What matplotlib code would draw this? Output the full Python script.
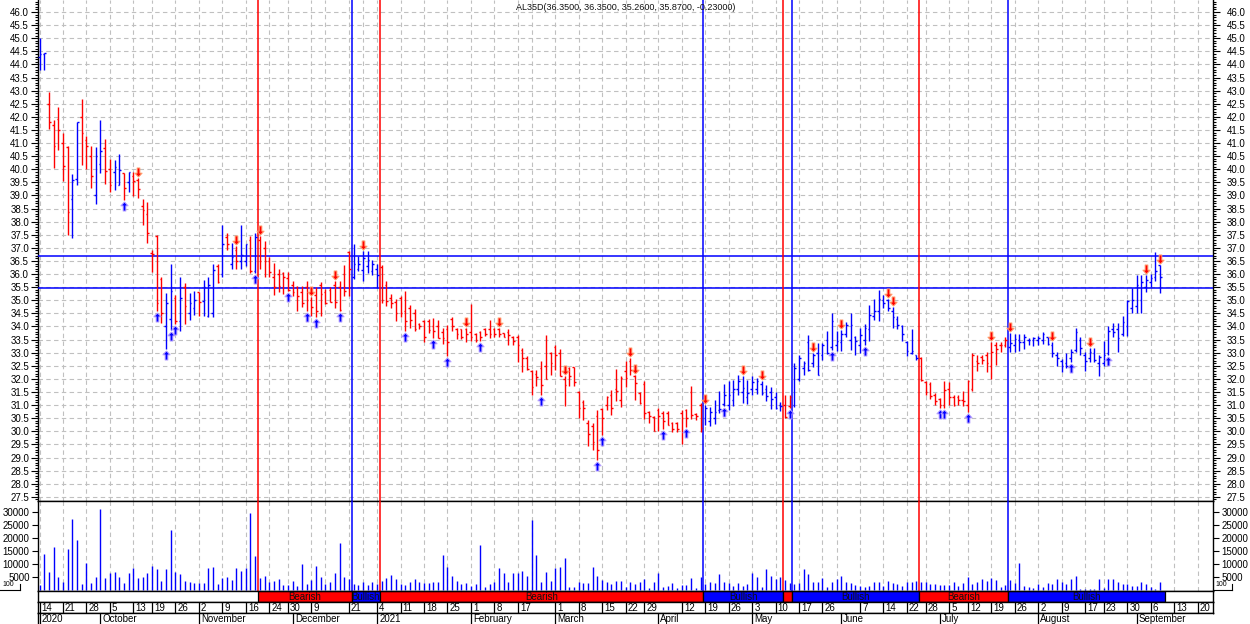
import matplotlib
matplotlib.use("Agg")
import matplotlib.pyplot as plt
from matplotlib.path import Path
from matplotlib.lines import Line2D
from matplotlib.patches import Rectangle
import numpy as np
import pandas as pd

plt.rcParams["font.family"] = ["Liberation Sans", "DejaVu Sans"]

# ---- calendar (Argentine market days) ----
holidays = ["2020-10-12", "2020-11-23", "2020-12-07", "2020-12-08", "2020-12-24",
            "2020-12-25", "2020-12-31", "2021-01-01", "2021-02-15", "2021-02-16",
            "2021-03-24", "2021-04-01", "2021-04-02", "2021-05-24", "2021-05-25",
            "2021-06-21", "2021-07-09", "2021-08-16"]
hidden_weeks = ["2020-12-14", "2020-12-28", "2021-02-22", "2021-04-05", "2021-05-31"]

# ---- OHLC + volume ----
highs = [45.0, 44.45, 42.96, 41.88, 42.37, 41.4, 40.89, 39.82, 41.81, 42.68,
         41.27, 40.89, 40.85, 41.88, 41.16, 40.39, 40.35, 40.59, 39.85, 39.89,
         39.91, 39.66, 38.87, 38.75, 36.92, 37.5, 35.89, 35.27, 36.39, 35.2,
         35.9, 35.66, 35.27, 35.36, 35.33, 35.79, 35.88, 36.38, 36.38, 37.87,
         37.56, 37.2, 37.06, 37.87, 37.16, 37.45, 37.56, 37.45, 37.25, 36.65,
         36.44, 36.2, 36.09, 36.09, 35.74, 35.55, 35.55, 35.74, 35.13, 35.49,
         35.68, 35.43, 35.52, 35.74, 35.72, 36.35, 36.88, 37.14, 36.7, 36.88,
         36.88, 36.55, 36.4, 36.33, 35.75, 35.25, 35.05, 35.17, 35.36, 34.83,
         34.66, 34.15, 34.24, 34.28, 34.32, 34.24, 33.96, 34.07, 34.37, 33.96,
         33.9, 33.96, 34.85, 33.77, 33.84, 33.93, 34.24, 33.96, 33.96, 33.77,
         33.9, 33.63, 33.69, 33.18, 32.89, 32.35, 32.33, 32.68, 33.69, 33.02,
         33.31, 33.14, 32.12, 32.46, 32.46, 31.53, 31.21, 30.42, 30.32, 30.8,
         30.89, 31.34, 31.56, 32.38, 32.12, 32.7, 32.8, 32.16, 31.5, 31.91,
         30.79, 30.6, 30.89, 30.79, 30.79, 30.34, 30.34, 30.83, 30.85, 31.74,
         30.7, 31.08, 31.0, 30.93, 31.21, 31.53, 31.82, 31.91, 31.97, 32.16,
         32.1, 31.97, 32.1, 32.04, 31.91, 31.76, 31.7, 31.5, 31.12, 31.4,
         31.4, 32.61, 32.9, 32.7, 33.69, 33.0, 33.37, 33.37, 33.82, 34.52,
         33.82, 33.88, 34.17, 34.52, 33.63, 33.94, 34.1, 34.81, 35.06, 35.41,
         35.19, 35.06, 34.73, 34.39, 34.07, 33.44, 33.92, 32.9, 32.82, 31.93,
         31.88, 31.46, 31.27, 31.91, 31.88, 31.4, 31.37, 31.53, 31.97, 33.0,
         32.9, 32.91, 33.01, 33.4, 33.4, 33.4, 33.61, 33.75, 33.7, 33.7,
         33.7, 33.57, 33.61, 33.65, 33.78, 33.61, 33.42, 33.04, 32.76, 32.98,
         33.14, 33.93, 33.61, 33.04, 33.17, 33.19, 32.91, 33.45, 34.03, 34.12,
         34.12, 34.41, 35.01, 35.48, 35.97, 35.97, 35.97, 35.99, 36.83, 36.35]
lows = [43.8, 43.77, 41.54, 40.06, 40.73, 39.55, 37.51, 37.39, 39.4, 40.17,
        40.0, 39.29, 38.69, 39.87, 39.44, 39.15, 39.19, 39.39, 38.83, 39.12,
        38.98, 38.9, 37.88, 37.2, 36.08, 34.59, 34.15, 33.15, 33.85, 34.1,
        33.84, 34.1, 34.25, 34.42, 34.41, 34.4, 34.38, 34.38, 35.66, 35.9,
        36.9, 36.21, 36.21, 36.21, 36.3, 36.06, 36.04, 36.2, 35.88, 35.88,
        35.2, 35.3, 35.24, 35.36, 35.17, 34.6, 34.73, 34.6, 34.41, 34.37,
        34.41, 34.85, 34.92, 34.7, 34.6, 35.17, 35.15, 35.8, 36.1, 35.75,
        36.05, 35.95, 35.45, 34.9, 34.8, 34.7, 34.2, 34.35, 33.84, 33.96,
        33.84, 33.9, 33.39, 33.77, 33.55, 33.55, 33.33, 32.88, 33.84, 33.52,
        33.52, 33.39, 33.45, 33.39, 33.45, 33.65, 33.55, 33.58, 33.58, 33.58,
        33.3, 33.31, 32.63, 32.25, 32.35, 31.4, 31.74, 31.4, 32.0, 32.13,
        32.33, 32.1, 30.98, 31.74, 31.72, 30.5, 30.42, 29.43, 29.27, 28.89,
        29.85, 30.83, 30.64, 31.15, 30.93, 31.69, 32.16, 31.21, 31.06, 30.47,
        30.32, 30.0, 30.0, 30.1, 30.25, 29.96, 29.96, 29.53, 30.15, 30.47,
        30.42, 29.96, 30.25, 30.22, 30.29, 30.7, 30.98, 30.83, 30.98, 31.4,
        31.08, 31.04, 31.4, 31.42, 31.37, 31.15, 30.84, 30.87, 30.79, 30.51,
        30.9, 30.92, 31.91, 32.16, 32.32, 32.44, 32.14, 32.74, 32.95, 33.1,
        33.05, 33.05, 33.59, 33.12, 32.93, 32.99, 33.31, 33.46, 34.26, 34.22,
        34.71, 34.61, 33.94, 33.92, 33.44, 32.86, 32.95, 32.74, 31.93, 31.37,
        31.25, 31.02, 30.89, 30.89, 30.99, 30.95, 30.99, 30.95, 30.74, 31.55,
        32.3, 32.56, 32.25, 32.0, 32.53, 33.01, 33.23, 33.04, 33.04, 33.06,
        33.14, 33.29, 33.27, 33.29, 33.32, 33.29, 32.85, 32.5, 32.28, 32.4,
        32.63, 33.01, 32.91, 32.3, 32.63, 32.66, 32.12, 32.5, 32.91, 33.61,
        33.04, 33.65, 33.65, 34.5, 34.5, 34.5, 35.33, 35.52, 35.74, 35.26]
opens = [44.3, 44.4, 42.49, 41.7, 41.9, 41.0, 40.85, 38.87, 39.62, 42.0,
         41.1, 40.5, 39.0, 40.2, 40.8, 40.0, 39.89, 39.39, 39.85, 39.53,
         39.75, 39.6, 38.6, 38.28, 36.8, 37.45, 35.8, 34.0, 34.3, 35.1,
         34.2, 35.5, 34.5, 34.7, 35.3, 34.98, 34.4, 34.5, 36.3, 36.0,
         37.4, 36.4, 36.9, 36.5, 36.5, 37.3, 36.13, 37.3, 37.0, 36.5,
         35.9, 36.0, 36.05, 35.85, 35.6, 35.5, 35.3, 35.5, 35.0, 35.2,
         35.6, 35.3, 35.4, 35.6, 35.5, 36.0, 36.85, 35.9, 36.2, 36.15,
         36.3, 36.1, 36.2, 36.28, 35.6, 35.1, 34.95, 35.1, 34.6, 34.7,
         34.5, 34.1, 34.2, 34.2, 34.0, 34.0, 33.8, 33.9, 34.3, 33.9,
         33.9, 33.9, 33.8, 33.7, 33.8, 33.9, 33.9, 33.9, 33.9, 33.75,
         33.8, 33.6, 33.6, 33.1, 32.8, 32.3, 32.2, 32.4, 32.5, 33.0,
         33.2, 33.0, 32.0, 32.4, 32.46, 31.5, 31.1, 30.3, 30.2, 30.6,
         30.85, 31.0, 31.4, 31.6, 31.2, 32.3, 32.7, 32.1, 31.45, 31.8,
         30.75, 30.55, 30.8, 30.7, 30.7, 30.3, 30.3, 30.7, 30.8, 31.5,
         30.65, 31.0, 30.5, 30.4, 30.5, 30.8, 31.06, 31.0, 31.2, 31.6,
         31.5, 31.3, 31.6, 31.6, 31.8, 31.6, 31.5, 31.3, 31.0, 31.0,
         30.95, 31.0, 32.0, 32.4, 33.4, 32.6, 33.0, 32.9, 33.5, 33.2,
         33.3, 33.4, 33.7, 33.5, 33.6, 33.3, 33.5, 33.9, 34.4, 34.6,
         35.0, 35.0, 34.6, 34.3, 34.0, 33.4, 33.0, 32.9, 32.8, 31.9,
         31.8, 31.4, 31.25, 31.0, 31.6, 31.3, 31.3, 31.2, 31.0, 31.6,
         32.7, 32.85, 32.9, 32.5, 33.3, 33.3, 33.3, 33.2, 33.3, 33.5,
         33.4, 33.5, 33.5, 33.5, 33.5, 33.6, 33.3, 32.9, 32.7, 32.6,
         32.8, 33.1, 33.5, 32.9, 32.8, 33.0, 32.6, 32.6, 33.0, 33.9,
         33.9, 33.7, 34.0, 34.7, 34.8, 35.0, 35.5, 35.7, 35.9, 36.35]
closes = [44.4, 44.45, 41.79, 40.9, 41.5, 40.13, 38.36, 39.6, 41.8, 41.37,
          40.88, 39.76, 40.5, 40.69, 39.92, 39.39, 40.1, 39.96, 39.3, 39.89,
          39.57, 39.26, 38.45, 37.56, 36.75, 34.9, 34.5, 34.89, 35.35, 34.2,
          35.07, 34.8, 34.9, 35.0, 34.95, 35.5, 35.6, 36.16, 35.69, 37.15,
          37.15, 36.65, 36.5, 36.73, 37.15, 36.1, 37.4, 36.5, 36.5, 36.09,
          35.5, 35.55, 35.87, 35.4, 35.3, 35.17, 34.9, 35.0, 34.75, 34.6,
          35.24, 34.88, 34.92, 34.95, 34.62, 35.36, 36.2, 36.4, 36.4, 36.6,
          36.55, 36.4, 35.95, 35.0, 34.98, 34.88, 34.5, 34.5, 34.2, 34.24,
          33.9, 34.0, 33.6, 33.86, 33.84, 33.55, 33.55, 33.39, 34.0, 33.7,
          33.6, 33.71, 33.58, 33.5, 33.6, 33.7, 33.71, 33.7, 33.7, 33.6,
          33.69, 33.44, 33.3, 32.8, 32.38, 31.7, 32.07, 31.78, 32.0, 32.6,
          32.93, 32.1, 31.78, 32.1, 31.9, 30.9, 30.89, 29.91, 29.6, 29.3,
          30.5, 31.3, 30.89, 31.53, 32.04, 32.04, 32.35, 31.84, 31.08, 30.7,
          30.6, 30.03, 30.57, 30.38, 30.25, 30.1, 30.1, 30.51, 30.51, 30.64,
          30.57, 30.13, 30.89, 30.73, 30.73, 30.85, 31.4, 31.4, 31.6, 31.91,
          31.65, 31.46, 31.88, 31.91, 31.46, 31.34, 31.25, 30.89, 30.95, 30.55,
          31.3, 32.4, 32.8, 32.61, 32.35, 32.9, 32.16, 33.3, 33.0, 34.2,
          33.44, 33.7, 34.07, 34.07, 33.44, 33.69, 33.94, 34.43, 34.61, 35.03,
          34.9, 34.7, 34.35, 34.05, 33.72, 33.05, 33.08, 32.8, 31.97, 31.5,
          31.34, 31.14, 31.0, 31.59, 31.3, 30.99, 31.21, 31.14, 31.91, 32.9,
          32.59, 32.72, 32.6, 33.04, 33.14, 33.29, 33.5, 33.36, 33.52, 33.42,
          33.61, 33.5, 33.55, 33.57, 33.7, 33.32, 32.98, 32.79, 32.5, 32.5,
          33.04, 33.78, 33.17, 32.68, 33.04, 32.72, 32.85, 32.91, 33.83, 33.8,
          33.55, 34.16, 34.97, 35.01, 35.6, 35.69, 35.77, 35.84, 36.10, 35.87]
volumes = [1800, 13870, 6630, 16420, 4990, 2820, 15780, 27210, 19200, 2060,
           10440, 2440, 4990, 31020, 4340, 6250, 6630, 4990, 2440, 6250,
           8540, 4340, 4990, 6250, 9180, 7780, 3320, 7780, 23140, 6630,
           5870, 3320, 2820, 2440, 2440, 2440, 8160, 8920, 2060, 4340,
           4860, 3580, 8540, 7140, 8540, 29500, 13000, 4340, 5100, 2820,
           3450, 3960, 1680, 1680, 3450, 1300, 10060, 2060, 3580, 9180,
           4990, 2060, 3070, 6250, 18060, 4990, 4090, 2060, 1800, 3070,
           1800, 3070, 2300, 3450, 4340, 5750, 4090, 2060, 1800, 2820,
           3960, 3070, 2440, 2440, 3070, 3070, 13230, 8800, 5370, 3450,
           2060, 2690, 1550, 2060, 17300, 1170, 2300, 3070, 8540, 6250,
           3070, 6500, 6250, 7140, 5370, 26830, 13490, 3070, 6890, 3450,
           8160, 8800, 12230, 1170, 1170, 3070, 2440, 2690, 8800, 5370,
           3700, 3070, 2180, 3320, 3450, 1170, 3070, 2060, 3070, 3960,
           800, 3070, 6500, 1170, 1420, 2690, 800, 1800, 1800, 4340,
           800, 4990, 2180, 3070, 2440, 5870, 3070, 2440, 1550, 2440,
           1550, 2060, 6250, 4990, 1170, 7780, 5370, 4090, 4990, 3580,
           2690, 2060, 2440, 7780, 5870, 3070, 3070, 4340, 900, 2820,
           4090, 5100, 3070, 2440, 1800, 1420, 1170, 1550, 2820, 2820,
           1550, 3200, 2440, 2060, 1300, 3070, 2820, 3200, 2820, 2820,
           2300, 2300, 1800, 1800, 1800, 2820, 1420, 2690, 4730, 2060,
           3070, 3960, 3200, 4340, 3580, 1170, 1800, 3580, 2440, 10440,
           1550, 900, 500, 2060, 1170, 2440, 2060, 3960, 2950, 2060,
           4090, 5370, 300, 300, 300, 300, 3960, 800, 3960, 3960,
           3070, 2060, 2060, 1550, 1550, 3070, 2060, 900, 300, 3070]

# signals (bar numbers) and regimes
buy_signals = [18, 25, 27, 28, 29, 46, 53, 57, 59, 64, 78, 84, 87, 94, 107, 119, 120,
               133, 138, 146, 160, 169, 176, 192, 193, 198, 220, 228]
sell_signals = [21, 42, 47, 58, 63, 69, 91, 98, 112, 126, 127, 142, 150, 154, 165,
                171, 181, 182, 203, 207, 216, 224, 236, 239]
regime_starts = ["2020-11-19", "2020-12-22", "2021-01-05", "2021-04-19",
                 "2021-05-12", "2021-05-14", "2021-06-25", "2021-07-23"]
regime_labels = ["Bearish", "Bullish", "Bearish", "Bullish",
                 "Bearish", "Bullish", "Bearish", "Bullish"]
levels = [36.69, 35.47]
title = "AL35D(36.3500, 36.3500, 35.2600, 35.8700, -0.23000)"
month_names = {1: "2021", 2: "February", 3: "March", 4: "April", 5: "May", 6: "June",
               7: "July", 8: "August", 9: "September", 10: "October",
               11: "November", 12: "December"}

BLUE = "#0000ff"
RED = "#ff0000"
GRID = "#c0c0c0"

days = pd.bdate_range("2020-09-14", "2021-09-24")
days = days[~days.isin(pd.to_datetime(holidays))]
n = len(closes)
x = np.arange(n)

def idx_of(d):
    return int(np.searchsorted(days, pd.Timestamp(d)))

# week and month starts
wk = pd.Series(range(len(days)), index=days)
iso = days.isocalendar()
week_start = wk.groupby([iso.year.values, iso.week.values]).min().values
month_start = wk.groupby([days.year, days.month]).min().values

reg_idx = [idx_of(d) for d in regime_starts]
bar_colors = []
for i in range(n):
    if i < reg_idx[0]:
        bar_colors.append(BLUE if closes[i] >= opens[i] else RED)
    else:
        k = np.searchsorted(reg_idx, i, side="right") - 1
        bar_colors.append(RED if regime_labels[k] == "Bearish" else BLUE)

W, H = 1250, 624
fig = plt.figure(figsize=(W / 100, H / 100), dpi=100)
L, R = 38, 1213

def ax_at(top, bottom):
    return fig.add_axes([L / W, 1 - bottom / H, (R - L) / W, (bottom - top) / H])

ax_p = ax_at(0, 501)
ax_v = ax_at(501, 590.5)
ax_b = ax_at(590.5, 601.7)
ax_d = ax_at(601.7, 613.3)
ax_m = ax_at(613.3, 624)
xlim = (-0.32, 250.3)
for a in (ax_p, ax_v, ax_b, ax_d, ax_m):
    a.set_xlim(*xlim)
    a.set_xticks([])
    for s in a.spines.values():
        s.set_linewidth(1.0)

dash = (0, (4, 3))

# ---- price panel ----
ax_p.set_ylim(27.34, 46.46)
ax_p.set_yticks(np.arange(27.5, 46.01, 0.5))
ax_p.set_yticks(np.arange(27.4, 46.45, 0.1), minor=True)
ax_p.yaxis.set_major_formatter(plt.FormatStrFormatter("%.1f"))
ax_p.tick_params(axis="y", which="both", left=True, right=True, labelleft=True,
                 labelright=True, labelsize=7, direction="out", width=0.8)
ax_p.tick_params(axis="y", which="major", length=5, pad=1.5)
ax_p.tick_params(axis="y", which="minor", length=2.5)
for t in ax_p.yaxis.get_major_ticks():
    t.label2.set_x(1 + 5 / (R - L))
ax_p.spines["top"].set_visible(False)
ax_p.grid(axis="y", which="major", color=GRID, lw=0.8, ls=dash)
for w in week_start:
    ax_p.axvline(w, color=GRID, lw=0.8, ls=dash, zorder=0)
    ax_v.axvline(w, color=GRID, lw=0.8, ls=dash, zorder=0)

for lv in levels:
    ax_p.axhline(lv, color=BLUE, lw=1.1, zorder=3)
for r, lab in zip(reg_idx, regime_labels):
    c = RED if lab == "Bearish" else BLUE
    ax_p.axvline(r - 0.4, color=c, lw=1.1, zorder=3)
    ax_v.axvline(r - 0.4, color=c, lw=1.1, zorder=3)

ax_p.vlines(x, lows, highs, colors=bar_colors, lw=1.0, zorder=4)
ax_p.hlines(opens, x - 0.35, x, colors=bar_colors, lw=1.0, zorder=4)
ax_p.hlines(closes, x, x + 0.35, colors=bar_colors, lw=1.0, zorder=4)

up_path = Path([(0, 1), (-0.8, 0.15), (-0.3, 0.15), (-0.3, -1), (0.3, -1),
                (0.3, 0.15), (0.8, 0.15), (0, 1)], closed=True)
down_path = Path([(0, -1), (-0.8, -0.15), (-0.3, -0.15), (-0.3, 1), (0.3, 1),
                  (0.3, -0.15), (0.8, -0.15), (0, -1)], closed=True)
lo = np.array(lows)
hi = np.array(highs)
ax_p.plot(buy_signals, lo[buy_signals] - 0.23, ls="none", marker=up_path, ms=6.5,
          mfc=BLUE, mec="#b39cff", mew=0.7, zorder=5)
ax_p.plot(sell_signals, hi[sell_signals] + 0.23, ls="none", marker=down_path, ms=6.5,
          mfc=RED, mec="#ff9b6a", mew=0.7, zorder=5)

ax_p.text(0.5, 1 - 7 / 501, title, transform=ax_p.transAxes, ha="center",
          va="center", fontsize=6.5, color="#101010")

# ---- volume panel ----
ax_v.vlines(x, 0, volumes, colors=BLUE, lw=1.0, zorder=4)
ax_v.set_ylim(-300, 34100)
ax_v.set_yticks(np.arange(5000, 30001, 5000))
ax_v.yaxis.set_major_formatter(plt.FormatStrFormatter("%d"))
ax_v.tick_params(axis="y", left=True, right=True, labelleft=True, labelright=True,
                 labelsize=7, length=4, width=0.8, pad=2)

# ---- regime band ----
ax_b.set_ylim(0, 1)
ax_b.set_yticks([])
bounds = [r - 0.4 for r in reg_idx] + [n - 0.4 + 0.5]
for k, lab in enumerate(regime_labels):
    x0, x1 = bounds[k], bounds[k + 1]
    c = RED if lab == "Bearish" else BLUE
    ax_b.add_patch(Rectangle((x0, 0), x1 - x0, 1, facecolor=c, edgecolor="black", lw=0.9))
    if x1 - x0 > 5:
        ax_b.text((x0 + x1) / 2, 0.45, lab, ha="center", va="center", fontsize=7,
                  color="#101010")

# ---- date rows ----
for a in (ax_d, ax_m):
    a.set_ylim(0, 1)
    a.set_yticks([])
ax_m.spines["right"].set_visible(False)
ax_m.spines["bottom"].set_visible(False)
hidden = [idx_of(d) for d in hidden_weeks]
for w in week_start:
    if w in hidden or w > xlim[1] - 1:
        continue
    ax_d.vlines(w, 0, 1, color="black", lw=0.9)
    ax_d.text(w + 0.45, 0.47, str(days[w].day), ha="left", va="center", fontsize=7)
for m in month_start:
    d = days[m]
    lab = "2020" if m == 0 else month_names[d.month]
    ax_m.vlines(m, 0, 1, color="black", lw=0.9)
    ax_m.text(m + 0.45, 0.5, lab, ha="left", va="center", fontsize=7)

# small scale boxes next to the volume axis
fig.text(2 / W, 1 - 585 / H, "100", fontsize=5, va="center")
fig.add_artist(Line2D([0, 19.5 / W], [1 - 589.5 / H] * 2, color="black", lw=0.8))
fig.add_artist(Line2D([19.5 / W] * 2, [1 - 584 / H, 1 - 589.5 / H], color="black", lw=0.8))
fig.text(1215 / W, 1 - 585 / H, "100", fontsize=5, va="center")
fig.add_artist(Line2D([1214 / W, 1232 / W], [1 - 589.5 / H] * 2, color="black", lw=0.8))
fig.add_artist(Line2D([1232 / W] * 2, [1 - 584 / H, 1 - 589.5 / H], color="black", lw=0.8))

fig.savefig("out.png", dpi=100, facecolor="white")
